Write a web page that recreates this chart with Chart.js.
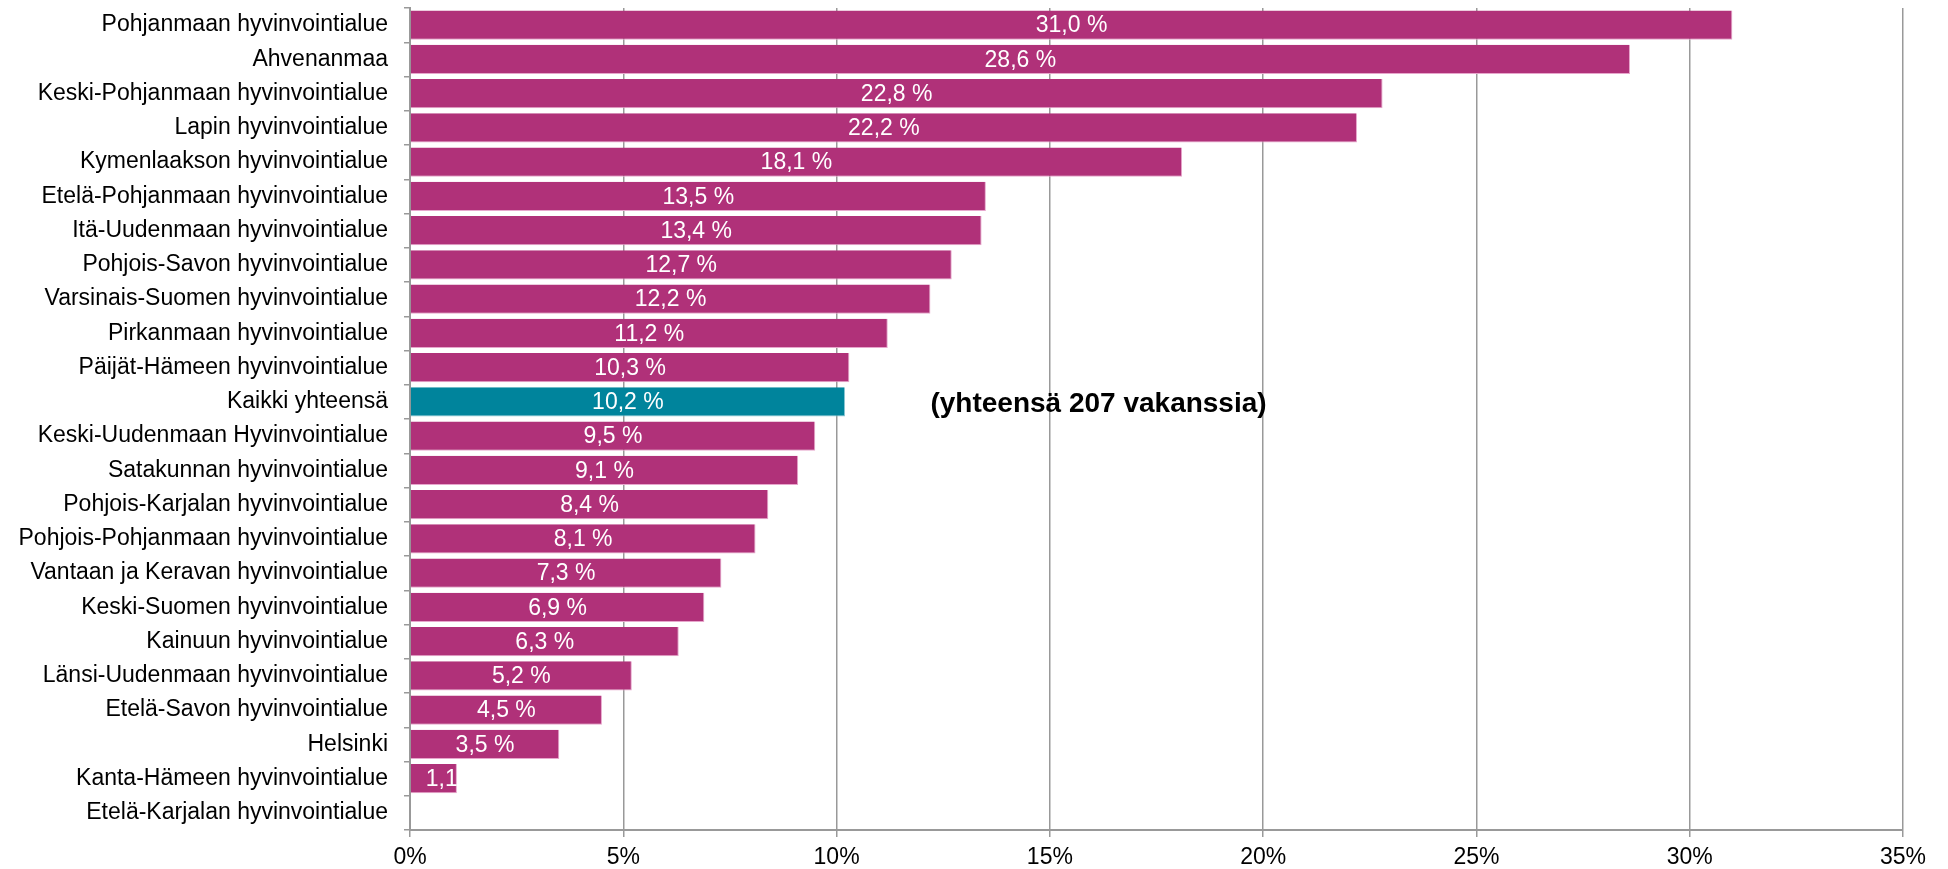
<!DOCTYPE html>
<html>
<head>
<meta charset="utf-8">
<script src="https://cdn.jsdelivr.net/npm/chart.js@4/dist/chart.umd.min.js"></script>
<style>
  html, body { margin: 0; padding: 0; background: #ffffff; }
  #wrap { width: 1948px; height: 869px; position: relative; }
</style>
</head>
<body>
<div id="wrap"><canvas id="c" width="1948" height="869"></canvas></div>
<script>
const categories = [
  "Pohjanmaan hyvinvointialue",
  "Ahvenanmaa",
  "Keski-Pohjanmaan hyvinvointialue",
  "Lapin hyvinvointialue",
  "Kymenlaakson hyvinvointialue",
  "Etelä-Pohjanmaan hyvinvointialue",
  "Itä-Uudenmaan hyvinvointialue",
  "Pohjois-Savon hyvinvointialue",
  "Varsinais-Suomen hyvinvointialue",
  "Pirkanmaan hyvinvointialue",
  "Päijät-Hämeen hyvinvointialue",
  "Kaikki yhteensä",
  "Keski-Uudenmaan Hyvinvointialue",
  "Satakunnan hyvinvointialue",
  "Pohjois-Karjalan hyvinvointialue",
  "Pohjois-Pohjanmaan hyvinvointialue",
  "Vantaan ja Keravan hyvinvointialue",
  "Keski-Suomen hyvinvointialue",
  "Kainuun hyvinvointialue",
  "Länsi-Uudenmaan hyvinvointialue",
  "Etelä-Savon hyvinvointialue",
  "Helsinki",
  "Kanta-Hämeen hyvinvointialue",
  "Etelä-Karjalan hyvinvointialue"
];
const values = [31.0, 28.6, 22.8, 22.2, 18.1, 13.5, 13.4, 12.7, 12.2, 11.2, 10.3, 10.2,
                9.5, 9.1, 8.4, 8.1, 7.3, 6.9, 6.3, 5.2, 4.5, 3.5, 1.1, 0];
const totalCategory = "Kaikki yhteensä";
const annotationText = "(yhteensä 207 vakanssia)";
const annotationX = 12.2;   // value on x axis where annotation starts
const xMin = 0, xMax = 35, xStep = 5;

const MAGENTA = '#B03179';
const MAGENTA_EDGE = '#E7A6CC';
const TEAL = '#00849C';
const TEAL_EDGE = '#8CC8D4';
const GRID = '#999999';
const FONT = '"Liberation Sans", Arial, Helvetica, sans-serif';

const fmt = v => v.toFixed(1).replace('.', ',') + ' %';

const labelPlugin = {
  id: 'barLabels',
  afterDatasetsDraw(chart) {
    const ctx = chart.ctx;
    const meta = chart.getDatasetMeta(0);
    ctx.save();
    ctx.font = '23px ' + FONT;
    ctx.fillStyle = '#ffffff';
    ctx.textBaseline = 'middle';
    meta.data.forEach((bar, i) => {
      const v = values[i];
      if (!v) return;
      const p = bar.getProps(['x', 'y', 'base', 'height'], true);
      const left = Math.min(p.base, p.x), right = Math.max(p.base, p.x);
      const w = right - left;
      const text = fmt(v);
      const tw = ctx.measureText(text).width;
      ctx.save();
      ctx.beginPath();
      ctx.rect(left, p.y - p.height / 2, w, p.height);
      ctx.clip();
      if (tw + 20 > w) {
        ctx.textAlign = 'left';
        ctx.fillText(text, left + 15, p.y + 1);
      } else {
        ctx.textAlign = 'center';
        ctx.fillText(text, (left + right) / 2, p.y + 1);
      }
      ctx.restore();
    });
    // annotation
    const xs = chart.scales.x, ys = chart.scales.y;
    const idx = categories.indexOf(totalCategory);
    ctx.font = 'bold 28px ' + FONT;
    ctx.fillStyle = '#000000';
    ctx.textAlign = 'left';
    ctx.fillText(annotationText, xs.getPixelForValue(annotationX), ys.getPixelForValue(idx) + 2);
    ctx.restore();
  }
};

new Chart(document.getElementById('c'), {
  type: 'bar',
  data: {
    labels: categories,
    datasets: [{
      data: values,
      backgroundColor: categories.map(c => c === totalCategory ? TEAL : MAGENTA),
      borderColor: categories.map(c => c === totalCategory ? TEAL_EDGE : MAGENTA_EDGE),
      borderWidth: { top: 0, left: 0, right: 1, bottom: 1 },
      borderSkipped: false,
      barPercentage: 0.85,
      categoryPercentage: 1.0
    }]
  },
  options: {
    indexAxis: 'y',
    responsive: false,
    animation: false,
    devicePixelRatio: 1,
    layout: { padding: { top: 8, right: 45, left: 0, bottom: 0 } },
    plugins: {
      legend: { display: false },
      tooltip: { enabled: false },
      title: { display: false }
    },
    scales: {
      x: {
        min: xMin, max: xMax,
        ticks: {
          stepSize: xStep,
          color: '#000000',
          font: { family: FONT, size: 23 },
          padding: 7,
          callback: v => v + '%'
        },
        grid: { color: GRID, lineWidth: 1.5, tickLength: 7, drawTicks: true },
        border: { color: GRID, width: 2 },
        afterFit(scale) { scale.height = 39; scale.paddingLeft = 0; }
      },
      y: {
        ticks: {
          color: '#000000',
          font: { family: FONT, size: 23 },
          padding: 16,
          autoSkip: false
        },
        grid: { offset: true, drawOnChartArea: false, drawTicks: true, tickLength: 6, color: GRID, lineWidth: 1.5 },
        border: { color: GRID, width: 2 },
        afterFit(scale) { scale.width = 410; scale.paddingTop = 0; scale.paddingBottom = 0; }
      }
    }
  },
  plugins: [labelPlugin]
});
</script>
</body>
</html>
